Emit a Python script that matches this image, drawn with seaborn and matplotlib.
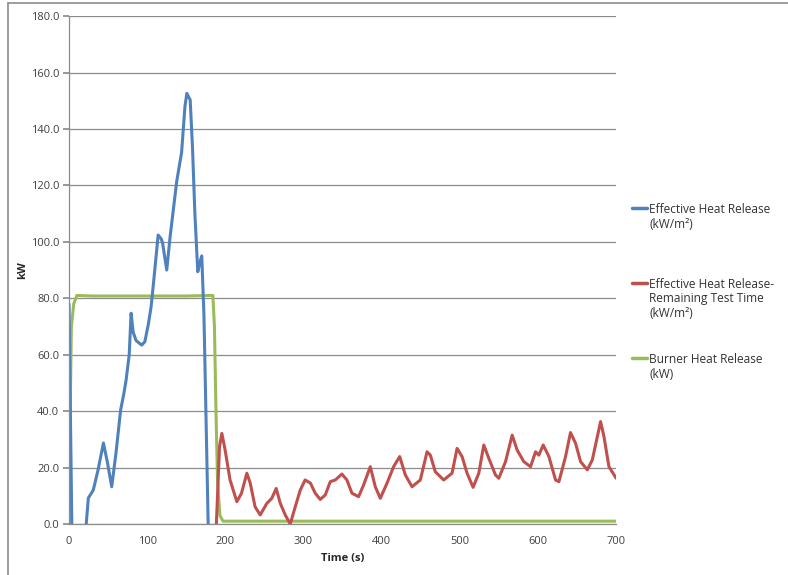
import pandas as pd
import seaborn as sns
import matplotlib.pyplot as plt
from matplotlib.lines import Line2D

# Effective Heat Release (kW/m2)
blue_t = [0, 4, 20, 22, 24.7, 31, 37, 44, 49, 54.6, 60, 66, 70, 73, 77, 79.4,
          82, 85.8, 93, 97, 101.6, 105, 109, 114, 118, 119.6, 125, 129.3,
          137.8, 144, 148.3, 150.7, 155, 158, 161, 164.7, 167.7, 169.8,
          172.6, 178, 180]
blue_kw = [78, -10, -10, 0, 9.2, 12, 19, 28.7, 22, 13.2, 25, 40.4, 46, 51, 60,
           74.7, 68, 65, 63.4, 64.6, 71, 77, 88, 102.4, 101, 99.7, 90, 101.8,
           121.5, 131.7, 148, 152.6, 150.3, 133, 110, 89.4, 93, 95, 74, 0, -8]

# Effective Heat Release - Remaining Test Time (kW/m2)
red_t = [188.5, 192.5, 195.5, 199.7, 206, 214.7, 220.6, 227.5, 231.8, 238,
         244.6, 253, 259.4, 265, 270.3, 276.6, 283, 289.4, 295.8, 302, 308.8,
         315, 321.4, 327.8, 334.2, 340.6, 349, 355.5, 361.9, 370.4, 376.8,
         385.4, 391.8, 398.2, 406.7, 415.2, 423, 430.2, 438.8, 449.4, 458,
         462.2, 468.6, 479.3, 490, 496.4, 502.8, 509.2, 516.9, 524.2, 530.6,
         537, 545.5, 549.8, 558.4, 566.9, 573.3, 581.8, 590.4, 596.8, 601,
         606.6, 613.9, 622.4, 626.7, 635.2, 641.5, 648, 654.4, 663, 669.4,
         680, 684.3, 690.7, 700]
red_kw = [0, 27.4, 32.1, 26.2, 15.6, 7.9, 10.9, 18, 14.5, 6.1, 3.2, 7.3, 9.1,
          12.6, 7.3, 3.2, 0, 6.1, 12, 15.6, 14.5, 10.9, 8.7, 10.3, 15, 15.6,
          17.7, 15.6, 10.9, 9.7, 13.8, 20.3, 13.2, 9.1, 14.4, 20.3, 23.9, 17.4,
          13.2, 15.6, 25.6, 24.4, 18.5, 15.6, 18, 26.8, 23.9, 18, 13, 18, 28,
          23.3, 17.4, 16.2, 22.1, 31.5, 26.2, 22.1, 20.3, 25.6, 24.4, 28, 23.9,
          15.6, 15, 23.9, 32.4, 28.6, 22.1, 19.2, 22.7, 36.3, 31, 20.3, 16.2]

# Burner Heat Release (kW)
green_t = [0, 1, 3, 6, 10, 30, 100, 150, 184, 186, 188, 190, 193, 197, 300, 700]
green_kw = [0, 30, 70, 78, 81, 80.8, 80.8, 80.8, 81, 70, 40, 15, 3, 1, 1, 1]

labels = ["Effective Heat Release\n(kW/m²)",
          "Effective Heat Release-\nRemaining Test Time\n(kW/m²)",
          "Burner Heat Release\n(kW)"]
colors = ["#4F81BD", "#C0504D", "#9BBB59"]

df = pd.concat([
    pd.DataFrame({"t": blue_t, "kw": blue_kw, "series": labels[0]}),
    pd.DataFrame({"t": red_t, "kw": red_kw, "series": labels[1]}),
    pd.DataFrame({"t": green_t, "kw": green_kw, "series": labels[2]}),
])

sns.set_theme(style="white")
plt.rcParams['font.family'] = ['Open Sans', 'DejaVu Sans']

fig = plt.figure(figsize=(7.88, 5.75), dpi=100)
ax = fig.add_axes([0.0876, 0.0887, 0.782 - 0.0876, 0.972 - 0.0887])

sns.lineplot(data=df, x="t", y="kw", hue="series",
             hue_order=[labels[2], labels[1], labels[0]],
             palette=dict(zip(labels, colors)),
             estimator=None, sort=False, linewidth=2.2, ax=ax, legend=False)

ax.set_xlim(0, 700)
ax.set_ylim(0, 180)
ax.set_xticks(range(0, 701, 100))
ax.set_yticks(range(0, 181, 20))
ax.set_yticklabels([f"{v:.1f}" for v in range(0, 181, 20)])
ax.yaxis.grid(True, color="#8c8c8c", linewidth=0.9)
ax.set_axisbelow(True)
for s in ["top", "right"]:
    ax.spines[s].set_visible(False)
for s in ["left", "bottom"]:
    ax.spines[s].set_color("#8c8c8c")
    ax.spines[s].set_linewidth(0.9)
ax.tick_params(axis="y", which="major", left=True, length=4, color="#8c8c8c",
               labelsize=8, labelcolor="#404040", pad=3)
ax.tick_params(axis="x", bottom=False, labelsize=8, labelcolor="#404040", pad=3)
ax.set_xlabel("Time (s)", fontsize=8, fontweight="bold", labelpad=4)
ax.set_ylabel("kW", fontsize=8, fontweight="bold", labelpad=2)

# legend, Excel style: handle aligned with the first text line
legend_y = [208, 283, 358]
for lab, col, ypx in zip(labels, colors, legend_y):
    yf = 1 - ypx / 575
    fig.add_artist(Line2D([632 / 788, 647 / 788], [yf, yf], color=col,
                          linewidth=2.5, transform=fig.transFigure))
    fig.text(649 / 788, 1 - (ypx - 5) / 575, lab, fontsize=8.6,
             color="#333333", va="top", ha="left", linespacing=1.15)

# outer chart border
fig.add_artist(Line2D([8 / 788, 8 / 788], [0, 1 - 3 / 575],
                      color="#8c8c8c", linewidth=1.2, transform=fig.transFigure))
fig.add_artist(Line2D([8 / 788, 1], [1 - 3 / 575, 1 - 3 / 575],
                      color="#8c8c8c", linewidth=1.2, transform=fig.transFigure))

fig.savefig("out.png", dpi=100)
